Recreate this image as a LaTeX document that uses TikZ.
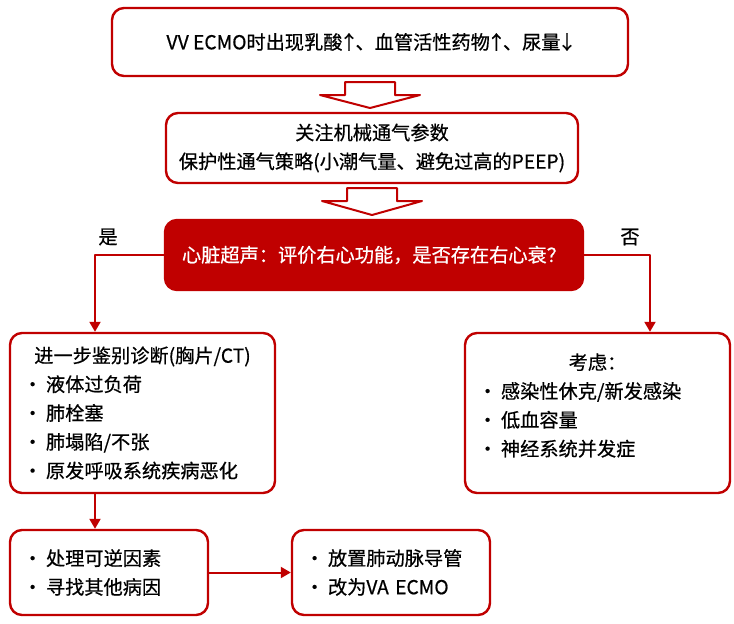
\documentclass[tikz,border=0pt]{standalone}
\usepackage{fontspec}
\setmainfont{Noto Sans CJK SC}[FakeBold=0.6]
\usetikzlibrary{arrows.meta,positioning}
\definecolor{hong}{RGB}{192,0,0}
\newcommand{\dian}[1]{\makebox[11.5pt][l]{•}#1}
\newcommand{\jt}[1]{\makebox[6.5pt]{#1}}
\begin{document}
\begin{tikzpicture}[x=0.5pt,y=-0.5pt,line join=round,
  kuang/.style={draw=hong,line width=1.2pt,rounded corners=6pt,fill=white,
    font=\fontsize{9.6}{14.4}\selectfont,inner sep=0pt,align=center},
  hongkuang/.style={kuang,fill=hong,text=white},
  liebiao/.style={kuang,align=left,inner xsep=6.5pt},
  lian/.style={draw=hong,line width=1pt,-{Triangle[length=5pt,width=5.5pt]}},
  kongxin/.style={draw=hong,line width=1pt,fill=white},
  biaoqian/.style={font=\fontsize{9.6}{12}\selectfont,inner sep=0pt}]
  \useasboundingbox (0,0) rectangle (734,623);
  \node[kuang,minimum width=258pt,minimum height=34pt] (chuxian) at (370,42)
    {VV ECMO时出现乳酸\jt{↑}、血管活性药物\jt{↑}、尿量\jt{↓}};
  \node[kuang,minimum width=206pt,minimum height=35pt] (guanzhu) at (372,148)
    {关注机械通气参数\\保护性通气策略(小潮气量、避免过高的PEEP)};
  \node[hongkuang,minimum width=209pt,minimum height=35pt] (xinzang) at (374,255)
    {心脏超声：评价右心功能，是否存在右心衰？};
  \node[liebiao,text width=119.5pt,minimum height=80pt] (zhenduan) at (142.5,413)
    {\makebox[\linewidth]{进一步鉴别诊断(胸片/CT)}\\
     \dian{液体过负荷}\\ \dian{肺栓塞}\\ \dian{肺塌陷/不张}\\ \dian{原发呼吸系统疾病恶化}};
  \node[liebiao,text width=119.5pt,minimum height=80pt] (kaolv) at (597.5,413)
    {\makebox[\linewidth]{考虑：}\\
     \dian{感染性休克/新发感染}\\ \dian{低血容量}\\ \dian{神经系统并发症}
     \par\nointerlineskip\vbox to 7.5pt{}};
  \node[liebiao,text width=86pt,minimum height=42.5pt] (chuli) at (109,572.5)
    {\dian{处理可逆因素}\\ \dian{寻找其他病因}};
  \node[liebiao,text width=86pt,minimum height=42.5pt] (fangzhi) at (391,572.5)
    {\dian{放置肺动脉导管}\\ \dian{改为VA ECMO}};
  \node[biaoqian] (shi) at (108,237) {是};
  \node[biaoqian] (fou) at (630,237) {否};
  \draw[kongxin] (345,82) -- (395,82) -- (395,95) -- (420,95) -- (370,108)
    -- (320,95) -- (345,95) -- cycle;
  \draw[kongxin] (347,188) -- (397,188) -- (397,201) -- (422,201) -- (372,215)
    -- (322,201) -- (347,201) -- cycle;
  \draw[lian] (xinzang.west) -| ([xshift=-23.75pt]zhenduan.north);
  \draw[lian] (xinzang.east) -| ([xshift=26.25pt]kaolv.north);
  \draw[lian] ([xshift=-23.75pt]zhenduan.south) -- ([xshift=-7pt]chuli.north);
  \draw[lian] (chuli.east) -- (fangzhi.west);
\end{tikzpicture}
\end{document}
